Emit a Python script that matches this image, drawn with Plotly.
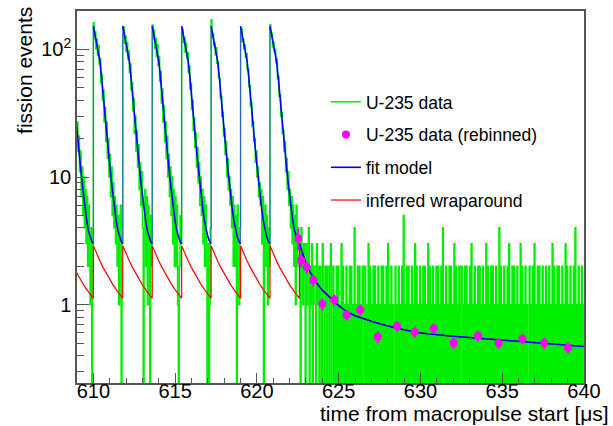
import plotly.graph_objects as go

# ------------------------------------------------------------------ data
# U-235 fission histogram (counts per bin), bins of equal width
hist_start = 609.0          # left edge of first bin [us]
hist_bin_width = 0.05       # [us]

u235_counts_pre = [27, 16, 21, 11, 16, 7, 12, 5, 10, 4, 8, 3, 7, 2, 6, 3, 1, 4, 0, 2]
u235_counts_pulse1 = [162, 121, 138, 101, 120, 90, 108, 77, 85, 55, 64, 40, 48, 27, 35, 19, 27, 14,
                      20, 10, 15, 7, 12, 5, 9, 4, 7, 3, 6, 2, 5, 1, 4, 6, 0, 3]
u235_counts_pulse2 = [131, 149, 112, 127, 96, 113, 84, 97, 66, 77, 48, 55, 33, 41, 22, 30, 16, 23,
                      12, 18, 8, 13, 6, 11, 4, 0, 3, 8, 2, 7, 1, 6, 3, 0, 5, 2]
u235_counts_pulse3 = [155, 120, 141, 102, 121, 88, 109, 75, 88, 56, 67, 38, 49, 27, 36, 19, 27, 14,
                      21, 10, 15, 7, 12, 5, 10, 3, 8, 2, 7, 2, 6, 1, 0, 2, 5, 3]
u235_counts_pulse4 = [137, 144, 113, 124, 95, 112, 85, 94, 66, 74, 49, 54, 34, 40, 23, 29, 17, 22,
                      12, 17, 9, 13, 6, 10, 5, 8, 3, 7, 2, 6, 2, 0, 3, 0, 1, 4]
u235_counts_pulse5 = [171, 124, 133, 108, 112, 91, 103, 78, 80, 60, 60, 42, 43, 30, 32, 21, 24, 15,
                      19, 10, 14, 8, 10, 6, 8, 4, 7, 2, 6, 2, 5, 0, 6, 2, 1, 4]
u235_counts_pulse6 = [138, 146, 115, 119, 101, 108, 87, 93, 70, 70, 51, 52, 36, 38, 25, 27, 19, 20,
                      13, 16, 10, 12, 7, 9, 6, 8, 3, 7, 0, 4, 6, 2, 5, 1, 4, 2]
u235_counts_pulse7 = [156, 126, 134, 104, 114, 96, 100, 79, 84, 59, 61, 43, 44, 30, 32, 22, 23, 16,
                      19, 11, 14, 8, 11, 6, 8, 4, 7, 3, 6, 2, 5, 1, 6, 2, 4, 3]
u235_counts_tail = [
    3, 0, 4, 2, 1, 3, 2, 0, 3, 1, 2, 4, 0, 2, 1, 3, 0, 2, 2, 1,
    0, 3, 1, 2, 0, 2, 1, 0, 3, 2, 0, 1, 2, 0, 2, 1, 0, 2, 3, 0,
    0, 2, 0, 1, 0, 2, 0, 2, 0, 1, 0, 3, 0, 2, 0, 1, 0, 2, 0, 1,
    0, 2, 0, 2, 0, 1, 0, 4, 0, 1, 0, 2, 0, 2, 0, 1, 0, 2, 1, 0,
    2, 0, 1, 0, 3, 0, 2, 0, 1, 0, 2, 0, 2, 0, 1, 0, 2, 0, 1, 0,
    2, 0, 2, 0, 1, 0, 2, 0, 3, 0, 1, 0, 2, 0, 1, 0, 0, 2, 0, 1,
    0, 2, 0, 1, 0, 2, 0, 5, 0, 1, 0, 2, 0, 2, 0, 1, 0, 2, 0, 1,
    0, 3, 0, 2, 0, 1, 0, 2, 0, 1, 0, 2, 0, 2, 0, 1, 0, 3, 0, 2,
    0, 1, 0, 2, 0, 1, 0, 2, 0, 2, 0, 1, 0, 2, 0, 4, 0, 1, 0, 2,
    0, 1, 0, 2, 0, 2, 0, 1, 0, 3, 0, 2, 0, 1, 0, 2, 0, 1, 2, 0,
    1, 0, 2, 0, 2, 0, 1, 0, 2, 0, 3, 0, 1, 0, 2, 0, 1, 0, 2, 0,
    2, 0, 1, 0, 2, 0, 1, 0, 3, 0, 2, 0, 1, 0, 2, 0, 2, 0, 1, 0,
    2, 0, 1, 0, 4, 0, 2, 0, 1, 0, 2, 0, 1, 0, 2, 0, 3, 0, 1, 0,
    2, 0, 2, 0, 1, 0, 2, 0, 1, 0, 3, 0, 2, 0, 1, 0, 2, 0, 1, 0,
    0, 2, 0, 1, 0, 2, 0, 3, 0, 1, 0, 2, 0, 2, 0, 1, 0, 2, 0, 1,
    0, 2, 0, 1, 0, 2, 0, 1, 0, 3, 0, 2, 0, 1, 0, 2, 0, 2, 0, 1,
    0, 2, 0, 1, 0, 3, 0, 2, 0, 1, 0, 2, 0, 1, 0, 2, 0, 4, 0, 1,
    0, 2, 0, 1, 0, 2, 0, 1,
]

# fit model: one micropulse shape (time after pulse start [us], counts)
pulse_starts = [608.2, 610.0, 611.8, 613.6, 615.4, 617.2, 619.0, 620.8]
fit_pulse_dt = [0.0, 0.05, 0.1, 0.2, 0.3, 0.4, 0.5, 0.6, 0.7, 0.8, 0.9, 1.0, 1.1, 1.2, 1.3, 1.4,
                1.5, 1.6, 1.7, 1.8]
fit_pulse_val = [152, 140, 128, 110, 99, 81, 61, 43, 31, 22.5, 16.8, 12.5, 9.3, 7.0, 5.5, 4.5,
                 3.8, 3.4, 3.15, 3.0]
# fit model after the last micropulse
fit_tail_x = [622.6, 622.8, 623.0, 623.25, 623.5, 623.75, 624.0, 624.5, 625.0, 625.5, 626.0,
              627.0, 628.0, 629.0, 630.0, 632.0, 634.0, 636.0, 638.0, 640.0]
fit_tail_val = [3.0, 2.45, 2.1, 1.8, 1.58, 1.42, 1.3, 1.12, 0.98, 0.88, 0.82, 0.74, 0.68, 0.635,
                0.6, 0.565, 0.54, 0.515, 0.495, 0.47]
# inferred wraparound within one micropulse period
wrap_dt = [0.0, 0.2, 0.4, 0.6, 0.8, 1.0, 1.2, 1.4, 1.6, 1.8]
wrap_val = [2.9, 2.5, 2.2, 1.95, 1.75, 1.58, 1.43, 1.31, 1.2, 1.12]

# rebinned data
rebinned_x = [622.53, 622.70, 623.04, 623.45, 624.00, 624.73, 625.49, 626.32, 627.39, 628.57,
              629.65, 630.81, 632.03, 633.52, 634.78, 636.23, 637.57, 639.02]
rebinned_y = [3.30, 2.23, 1.97, 1.55, 1.01, 1.09, 0.83, 0.91, 0.56, 0.68, 0.61, 0.65, 0.50,
              0.57, 0.50, 0.54, 0.50, 0.46]
rebinned_err = [0.65, 0.28, 0.22, 0.16, 0.11, 0.11, 0.08, 0.09, 0.06, 0.065, 0.06, 0.06, 0.05,
                0.055, 0.05, 0.05, 0.05, 0.045]

x_tick_vals = [610, 615, 620, 625, 630, 635, 640]
y_tick_vals = [1, 10, 100]
y_tick_text = ["1", "10", "10<sup>2</sup>"]
y_minor_vals = [0.3, 0.4, 0.5, 0.6, 0.7, 0.8, 0.9, 2, 3, 4, 5, 6, 7, 8, 9,
                20, 30, 40, 50, 60, 70, 80, 90, 200]

# ------------------------------------------------------------------ build
counts = (u235_counts_pre + u235_counts_pulse1 + u235_counts_pulse2 + u235_counts_pulse3 +
          u235_counts_pulse4 + u235_counts_pulse5 + u235_counts_pulse6 + u235_counts_pulse7 +
          u235_counts_tail)
ZERO_FLOOR = 0.1  # empty bins drawn below the visible log range
hx = [hist_start + i * hist_bin_width for i in range(len(counts))]
hy = [c if c > 0 else ZERO_FLOOR for c in counts]
hx.append(hist_start + len(counts) * hist_bin_width)
hy.append(hy[-1])

# fit model: decays drawn bold, the rising edges drawn thin
fx, fy = [], []
rx, ry = [], []
for k, s in enumerate(pulse_starts):
    for dt, v in zip(fit_pulse_dt[:-1], fit_pulse_val[:-1]):
        fx.append(s + dt)
        fy.append(v)
    if k < len(pulse_starts) - 1:
        fx.append(s + fit_pulse_dt[-1])
        fy.append(fit_pulse_val[-1])
        fx.append(None)
        fy.append(None)
        rx += [s + fit_pulse_dt[-1], s + fit_pulse_dt[-1], None]
        ry += [fit_pulse_val[-1], fit_pulse_val[0], None]
fx += fit_tail_x
fy += fit_tail_val

wx, wy = [], []
for s in pulse_starts:
    for dt, v in zip(wrap_dt, wrap_val):
        wx.append(s + dt)
        wy.append(v)
wx += fit_tail_x
wy += fit_tail_val

FONT = "Liberation Sans, Arial, Helvetica, sans-serif"

fig = go.Figure()
fig.add_trace(go.Scatter(
    x=hx, y=hy, mode="lines", line=dict(color="#00ee00", width=1.5, shape="hv"),
    name="U-235 data", legendgroup="a", legendrank=1))
fig.add_trace(go.Scatter(
    x=wx, y=wy, mode="lines", line=dict(color="#ff0000", width=1.2),
    name="inferred wraparound", legendgroup="d", legendrank=4))
fig.add_trace(go.Scatter(
    x=rx, y=ry, mode="lines", line=dict(color="rgba(60,60,255,0.8)", width=1),
    showlegend=False, legendgroup="c", hoverinfo="skip"))
fig.add_trace(go.Scatter(
    x=fx, y=fy, mode="lines", line=dict(color="#0000ff", width=1.6),
    name="fit model", legendgroup="c", legendrank=3))
fig.add_trace(go.Scatter(
    x=rebinned_x, y=rebinned_y, mode="markers",
    marker=dict(color="#ff00ff", size=8),
    error_y=dict(type="data", array=rebinned_err, color="#ff00ff", thickness=2, width=0),
    name="U-235 data (rebinned)", legendgroup="b", legendrank=2))

fig.update_layout(
    width=613, height=426,
    margin=dict(l=77, r=29, t=9, b=43),
    paper_bgcolor="white", plot_bgcolor="white",
    font=dict(family=FONT, size=20, color="black"),
    showlegend=True,
    legend=dict(x=0.491, y=0.804, xanchor="left", yanchor="top",
                bgcolor="rgba(0,0,0,0)", borderwidth=0,
                font=dict(size=17.5), traceorder="grouped", tracegroupgap=7),
    xaxis=dict(range=[609, 640], tickvals=x_tick_vals, ticks="inside", ticklen=10,
               tickcolor="#555", tickwidth=1, showgrid=False, zeroline=False,
               showline=True, linecolor="#555", linewidth=1.5, mirror=True,
               ticklabelstandoff=-11,
               minor=dict(ticks="inside", ticklen=5, dtick=1, tick0=609, tickcolor="#555",
                          showgrid=False),
               tickfont=dict(size=20)),
    yaxis=dict(type="log", range=[-0.614, 2.301], tickvals=y_tick_vals, ticktext=y_tick_text,
               ticks="inside", ticklen=12, tickcolor="#555", tickwidth=1, showgrid=False,
               zeroline=False, showline=True, linecolor="#555", linewidth=1.5, mirror=True,
               minor=dict(ticks="inside", ticklen=7, tickvals=y_minor_vals, tickcolor="#555",
                          showgrid=False),
               tickfont=dict(size=20)),
)

fig.add_annotation(text="time from macropulse start [μs]", xref="paper", yref="paper",
                   x=1.0513, y=-0.0829, xanchor="right", yanchor="middle", showarrow=False,
                   font=dict(size=21), borderpad=0)
fig.add_annotation(text="fission events", xref="paper", yref="paper",
                   x=-0.105, y=1.017, xanchor="center", yanchor="top", textangle=-90,
                   showarrow=False, font=dict(size=21))

fig.write_html("out.html", config={"displayModeBar": False},
               post_script="document.body.style.margin='0px';")
